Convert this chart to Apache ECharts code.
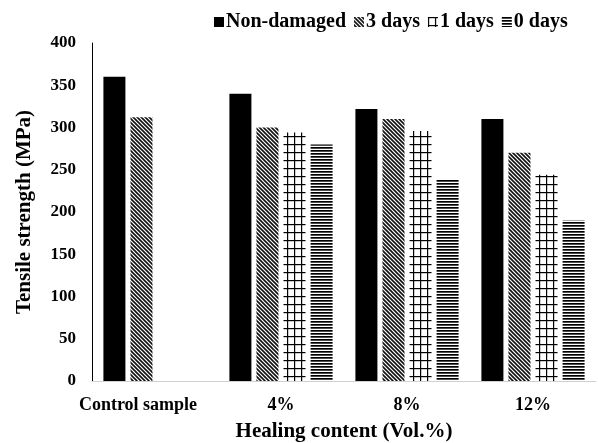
<!DOCTYPE html>
<html>
<head>
<meta charset="utf-8">
<script src="https://cdn.jsdelivr.net/npm/echarts@6/dist/echarts.min.js"></script>
<style>
  html, body { margin: 0; padding: 0; background: #fff; }
  #chart { width: 598px; height: 443px; }
</style>
</head>
<body>
<div id="chart"></div>
<script>
// data
const categories = ['Control sample', '4%', '8%', '12%']
const seriesNames = ['Non-damaged', '3 days', '1 days', '0 days']
const nonDamaged = [360, 340, 322, 310]
const days3 = [312, 300, 310, 270]
const days1 = [null, 294, 296, 244]
const days0 = [null, 280, 238, 190]

const FONT = '"Liberation Serif", "Times New Roman", serif'

// little canvas tiles for the hatch fills
function makeTile(w, h, draw) {
  const c = document.createElement('canvas')
  c.width = w
  c.height = h
  const ctx = c.getContext('2d')
  ctx.fillStyle = '#fff'
  ctx.fillRect(0, 0, w, h)
  draw(ctx)
  return { image: c, repeat: 'repeat' }
}

const diagFill = makeTile(4, 4, function(ctx) {
  ctx.strokeStyle = '#111'
  ctx.lineWidth = 1.6
  ctx.beginPath()
  ctx.moveTo(-1, -1); ctx.lineTo(5, 5)
  ctx.moveTo(-1, 3); ctx.lineTo(1, 5)
  ctx.moveTo(3, -1); ctx.lineTo(5, 1)
  ctx.stroke()
})
const gridFill = makeTile(7, 8, function(ctx) {
  ctx.fillStyle = '#000'
  ctx.fillRect(0, 0, 1.2, 8)
  ctx.fillRect(0, 0, 7, 1.2)
})
const lineFill = makeTile(1, 3, function(ctx) {
  ctx.fillStyle = '#000'
  ctx.fillRect(0, 0, 1, 1.7)
})

const chart = echarts.init(document.getElementById('chart'))

function bar(name, data, fill) {
  return {
    name,
    type: 'bar',
    data,
    barWidth: 22,
    barGap: '23%',
    barCategoryGap: '18%',
    itemStyle: { color: fill },
    emphasis: { disabled: true }
  }
}

const option = {
  animation: false,
  textStyle: { fontFamily: FONT },
  legend: {
    top: 7,
    left: 209,
    itemWidth: 10,
    itemHeight: 10,
    itemGap: 8,
    textStyle: { fontFamily: FONT, fontWeight: 'bold', fontSize: 20, color: '#000', padding: [0, 0, 0, -3] },
    data: seriesNames.map(n => ({ name: n, icon: 'rect' }))
  },
  grid: { left: 92, right: 2, top: 43, bottom: 62, outerBoundsMode: 'none' },
  xAxis: {
    type: 'category',
    data: categories,
    name: 'Healing content (Vol.%)',
    nameLocation: 'middle',
    nameGap: 40,
    nameTextStyle: { fontFamily: FONT, fontWeight: 'bold', fontSize: 21, color: '#000' },
    axisLine: { lineStyle: { color: '#d0d0d0', width: 1 } },
    axisTick: { show: false },
    axisLabel: {
      interval: 0,
      margin: 15,
      fontFamily: FONT,
      fontWeight: 'bold',
      fontSize: 18,
      color: '#000',
      formatter: function(v, i) {
        return i === 0 ? '{c|' + v + '}' : v
      },
      rich: {
        c: { fontFamily: FONT, fontWeight: 'bold', fontSize: 18, color: '#000', padding: [0, 34, 0, 0] }
      }
    }
  },
  yAxis: {
    type: 'value',
    min: 0,
    max: 400,
    interval: 50,
    name: 'Tensile strength (MPa)',
    nameLocation: 'middle',
    nameGap: 57,
    nameTextStyle: { fontFamily: FONT, fontWeight: 'bold', fontSize: 21, color: '#000' },
    axisLine: { show: true, lineStyle: { color: '#000', width: 1 } },
    axisTick: { show: false },
    splitLine: { show: false },
    axisLabel: { margin: 16, fontFamily: FONT, fontWeight: 'bold', fontSize: 17, color: '#000' }
  },
  series: [
    bar(seriesNames[0], nonDamaged, '#000'),
    bar(seriesNames[1], days3, diagFill),
    bar(seriesNames[2], days1, gridFill),
    bar(seriesNames[3], days0, lineFill)
  ]
}

chart.setOption(option)
</script>
</body>
</html>
